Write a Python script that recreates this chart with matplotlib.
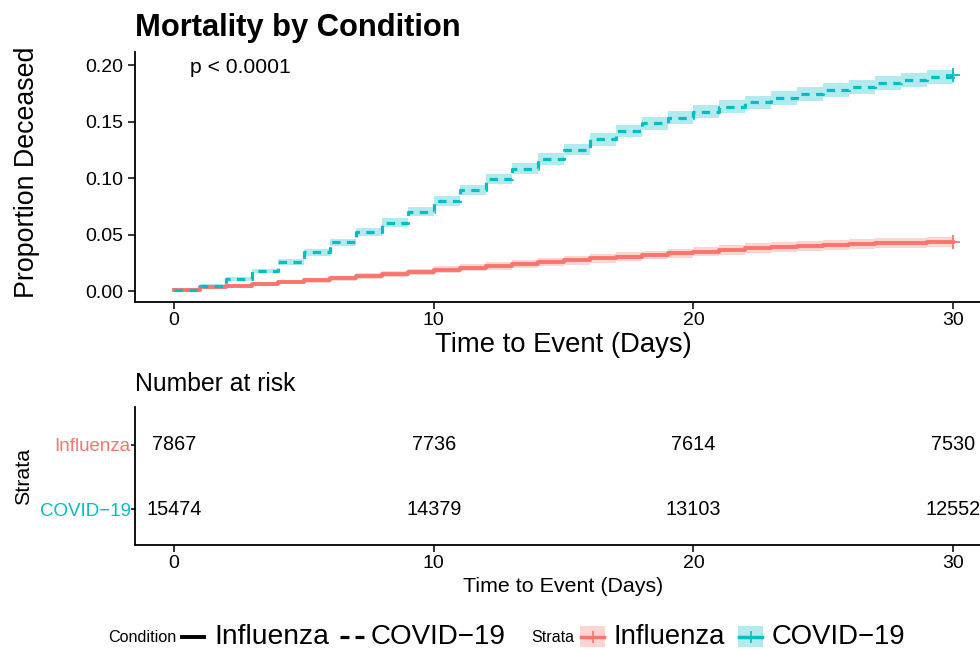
import numpy as np
import matplotlib.pyplot as plt
from matplotlib.lines import Line2D
from matplotlib.patches import Rectangle

plt.rcParams['font.family'] = ['Liberation Sans', 'DejaVu Sans']

# data
days = np.arange(0, 31)
covid = [0.0015, 0.005, 0.0107, 0.0178, 0.026, 0.0344, 0.0433, 0.052, 0.0607, 0.0705,
         0.0797, 0.0895, 0.0993, 0.1084, 0.117, 0.1253, 0.1342, 0.1416, 0.1484, 0.1535,
         0.1588, 0.163, 0.167, 0.1707, 0.1742, 0.1778, 0.1807, 0.184, 0.187, 0.1896, 0.1915]
flu = [0.0015, 0.0036, 0.005, 0.0065, 0.0083, 0.0098, 0.0113, 0.0136, 0.0154, 0.0172,
       0.019, 0.0207, 0.0225, 0.0243, 0.0258, 0.0272, 0.029, 0.0305, 0.032, 0.0335,
       0.035, 0.0364, 0.0382, 0.0394, 0.0403, 0.0409, 0.0415, 0.0424, 0.043, 0.0436, 0.0436]
risk_times = [0, 10, 20, 30]
risk_flu = [7867, 7736, 7614, 7530]
risk_covid = [15474, 14379, 13103, 12552]
strata = ['COVID\u221219', 'Influenza']

RED = '#F8766D'
TEAL = '#00BFC4'

fig = plt.figure(figsize=(9.8, 6.5), dpi=100)

def style(ax):
    ax.spines['right'].set_visible(False)
    ax.spines['top'].set_visible(False)
    for s in ['left', 'bottom']:
        ax.spines[s].set_linewidth(1.3)
    ax.tick_params(direction='out', length=5, width=1.1, labelsize=14, colors='black')

# ---- survival panel
ax = fig.add_axes([135/980, 1-302/650, 845/980, 250/650])
style(ax)
for vals, n0, col, ls in [(flu, risk_flu[0], RED, '-'), (covid, risk_covid[0], TEAL, '--')]:
    v = np.array(vals)
    ci = 1.96 * np.sqrt(v * (1 - v) / n0)
    ax.fill_between(days, v - ci, v + ci, step='post', color=col, alpha=0.3, lw=0)
    if ls == '--':
        ax.step(days, v, where='post', color=col, lw=2.3, dashes=(2.6, 2.0))
    else:
        ax.step(days, v, where='post', color=col, lw=2.8)
    ax.plot(days[-1], v[-1], marker='+', ms=10, mew=1.3, color=col)
ax.set_xlim(-1.5, 31.03)
ax.set_ylim(-0.0095, 0.2115)
ax.set_xticks([0, 10, 20, 30])
ax.set_yticks([0, 0.05, 0.10, 0.15, 0.20])
ax.set_yticklabels(['0.00', '0.05', '0.10', '0.15', '0.20'])
ax.tick_params(axis='x', pad=2)
ax.set_xlabel('Time to Event (Days)', fontsize=19.8, labelpad=0)
ax.xaxis.set_label_coords(0.507, -0.118)
ax.xaxis.label.set_va('top')
ax.set_ylabel('Proportion Deceased', fontsize=19.3)
ax.yaxis.set_label_coords(-0.112, 0.52)
ax.text(0.62, 0.198, 'p < 0.0001', fontsize=15.2, va='center', ha='left')
fig.text(135/980, 1-28/650, 'Mortality by Condition', fontsize=22.2, fontweight='bold',
         va='center', ha='left')

# ---- risk table
at = fig.add_axes([135/980, 1-545/650, 845/980, 138/650])
style(at)
for i, t in enumerate(risk_times):
    at.text(t, 2, str(risk_flu[i]), ha='center', va='center', fontsize=14.3)
    at.text(t, 1, str(risk_covid[i]), ha='center', va='center', fontsize=14.3)
at.set_xlim(-1.5, 31.03)
at.set_ylim(0.44, 2.59)
at.set_xticks([0, 10, 20, 30])
at.set_yticks([1, 2])
at.set_yticklabels(strata, fontsize=13.5)
for lab, col in zip(at.get_yticklabels(), [TEAL, RED]):
    lab.set_color(col)
at.tick_params(axis='y', pad=0, length=3)
at.tick_params(axis='x', pad=2)
at.set_xlabel('Time to Event (Days)', fontsize=15.4, labelpad=0)
at.xaxis.set_label_coords(0.507, -0.235)
at.xaxis.label.set_va('top')
at.set_ylabel('Strata', fontsize=15.4)
at.yaxis.set_label_coords(-0.121, 0.5)
fig.text(135/980, 1-384/650, 'Number at risk', fontsize=17.8, va='center', ha='left')

# ---- legends
ly = 1 - 637/650
def px(x):
    return x / 980

fig.text(px(108), ly, 'Condition', fontsize=11.6, va='center', ha='left')
fig.add_artist(Line2D([px(182), px(204)], [ly, ly], color='black', lw=2.8, transform=fig.transFigure))
fig.text(px(214), ly, 'Influenza', fontsize=20.3, va='center', ha='left')
fig.add_artist(Line2D([px(340), px(364)], [ly, ly], color='black', lw=2.3, dashes=(2.8, 1.9),
                      transform=fig.transFigure))
fig.text(px(371), ly, 'COVID\u221219', fontsize=20.0, va='center', ha='left')

fig.text(px(531), ly, 'Strata', fontsize=11.6, va='center', ha='left')
for x0, col, lab in [(580, RED, 'Influenza'), (738, TEAL, 'COVID\u221219')]:
    fig.add_artist(Rectangle((px(x0), 1 - 647/650), px(25), 21/650, color=col, alpha=0.3,
                             lw=0, transform=fig.transFigure))
    fig.add_artist(Line2D([px(x0 + 1), px(x0 + 24)], [ly, ly], color=col, lw=2.5,
                          transform=fig.transFigure))
    fig.add_artist(Line2D([px(x0 + 12.5)], [ly], color=col, marker='+', ms=9, mew=1.2,
                          transform=fig.transFigure))
    fig.text(px(x0 + 34), ly, lab, fontsize=19.8, va='center', ha='left')

fig.savefig('out.png', dpi=100)
